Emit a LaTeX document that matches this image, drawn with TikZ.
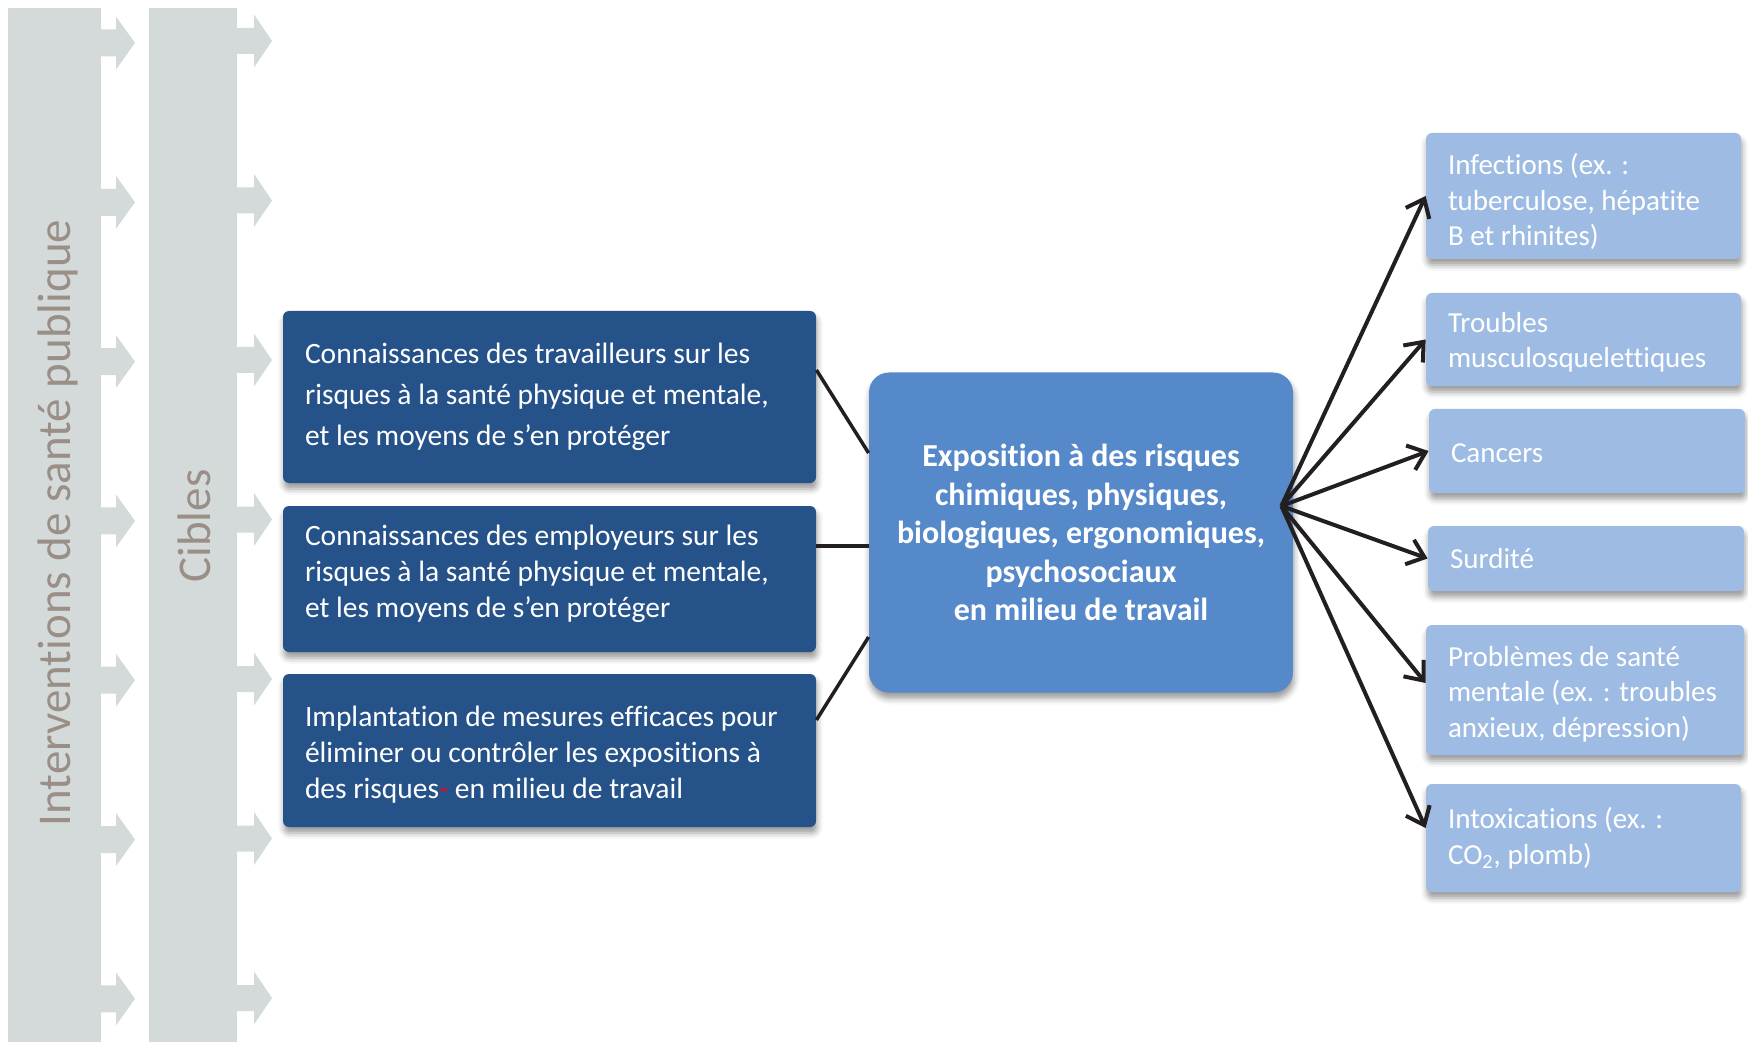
\documentclass[tikz,border=0pt]{standalone}
\usepackage{fontspec}
\setmainfont{Carlito}[Ligatures=NoCommon]
\usetikzlibrary{positioning,arrows.meta,calc,shadows.blur}
\definecolor{colonne}{HTML}{D4DADA}
\definecolor{titre}{HTML}{9A8F87}
\definecolor{fonce}{HTML}{26528A}
\definecolor{moyen}{HTML}{5689CA}
\definecolor{pale}{HTML}{9EBCE3}
\definecolor{trait}{HTML}{231F20}

\begin{document}
\begin{tikzpicture}[x=0.5pt,y=-0.5pt,
      ombre/.style={blur shadow={shadow xshift=0.5pt,shadow yshift=-3pt,shadow blur radius=3pt,shadow opacity=40}},
      c/.style={rectangle,rounded corners=3pt,fill=fonce,text=white,align=flush left,inner xsep=11pt,
                text width=244.5pt,font=\fontsize{14.75}{17.9}\selectfont,ombre},
      e/.style={rectangle,rounded corners=3pt,fill=pale,text=white,align=flush left,inner xsep=11pt,
                text width=135.5pt,font=\fontsize{14.5}{17.75}\selectfont,ombre},
      v/.style={rotate=90,anchor=base,text=titre,font=\fontsize{23.5}{28}\selectfont},
      lien/.style={draw=trait,line width=1.75pt},
      fl/.style={draw=trait,line width=2pt,-{Straight Barb[length=8pt,width=13pt]}}]
  \useasboundingbox (0,0) rectangle (1748,1042);
  \fill[colonne] (8,8) rectangle (101,1042);
  \fill[colonne] (149,8) rectangle (237,1042);
  \foreach \k in {0,...,6}{
    \pgfmathsetmacro\ya{43+159.3*\k}
    \pgfmathsetmacro\yb{41+159.5*\k}
    \fill[colonne] (100,\ya-13.5) -- (116,\ya-13.5) -- (116,\ya-26.5) -- (135,\ya) -- (116,\ya+26.5) -- (116,\ya+13.5) -- (100,\ya+13.5) -- cycle;
    \fill[colonne] (236,\yb-13) -- (254,\yb-13) -- (254,\yb-26.5) -- (272,\yb) -- (254,\yb+26.5) -- (254,\yb+13) -- (236,\yb+13) -- cycle;
  }
  \node[v] (isp) at (70,523) {Interventions de santé publique};
  \node[v] (cib) at (210,526) {Cibles};

  \node[c,minimum height=86pt,font=\fontsize{14.75}{20.5}\selectfont] (tr) at (549.5,397)
    {Connaissances des travailleurs sur les\\risques à la santé physique et mentale,\\et les moyens de s’en protéger};
  \node[c,minimum height=73pt] (em) at (549.5,579)
    {Connaissances des employeurs sur les\\risques à la santé physique et mentale,\\et les moyens de s’en protéger\rule[-8pt]{0pt}{0pt}};
  \node[c,minimum height=76.5pt] (me) at (549.5,750.5)
    {\rule{0pt}{14.5pt}Implantation de mesures efficaces pour\\éliminer ou contrôler les expositions à\\des risques{\color{red}-} en milieu de travail};

  \node[rectangle,rounded corners=10pt,fill=moyen,text=white,align=center,minimum width=212pt,
        minimum height=160pt,font=\bfseries\fontsize{16}{19.25}\selectfont,ombre] (expo) at (1081,532.5)
    {Exposition à des risques\\chimiques, physiques,\\biologiques, ergonomiques,\\psychosociaux\\en milieu de travail};

  \node[e,minimum height=63pt] (inf) at (1583.5,196) {\rule{0pt}{16.5pt}Infections (ex. :\\tuberculose, hépatite\\B et rhinites)};
  \node[e,minimum height=46.5pt] (tms) at (1583.5,339.5) {\rule{0pt}{13pt}Troubles\\musculosquelettiques};
  \node[e,minimum height=42pt,text width=136pt] (can) at (1587,451) {\rule{0pt}{11.5pt}Cancers};
  \node[e,minimum height=32.5pt,text width=136pt] (sur) at (1586,558.5) {Surdité};
  \node[e,minimum height=65pt,text width=137pt] (psm) at (1585,690) {\rule{0pt}{14pt}Problèmes de santé\\mentale (ex. : troubles\\anxieux, dépression)};
  \node[e,minimum height=54pt] (int) at (1583.5,838) {Intoxications (ex. :\\CO\textsubscript{2}, plomb)};

  \draw[lien] ([yshift=13.5pt]tr.east) -- ([yshift=39.75pt]expo.west);
  \draw[lien] ([yshift=16.5pt]em.east) -- ([yshift=-6.75pt]expo.west);
  \draw[lien] ([yshift=15.25pt]me.east) -- ([yshift=-52.25pt]expo.west);
  \coordinate (fan) at ([xshift=-6pt,yshift=13.25pt]expo.east);
  \foreach \n/\s in {inf/0,tms/0,can/0,sur/0,psm/3.5,int/5}
    \draw[fl] (fan) -- ([yshift=\s pt]\n.west);
\end{tikzpicture}
\end{document}
